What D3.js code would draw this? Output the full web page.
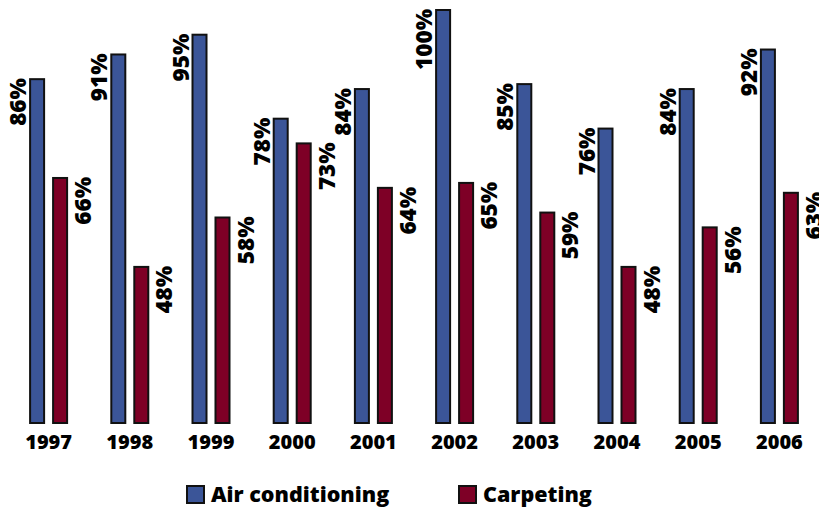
<!DOCTYPE html>
<html><head><meta charset="utf-8">
<script src="https://cdn.jsdelivr.net/npm/d3@7"></script>
<style>body{margin:0;background:#fff}svg{display:block}text{font-family:"Open Sans",sans-serif;font-weight:800;fill:#000}</style>
</head><body>
<svg id="c" width="819" height="508"></svg>
<script>
const years = ["1997","1998","1999","2000","2001","2002","2003","2004","2005","2006"];
const airConditioning = [86,91,95,78,84,100,85,76,84,92];
const carpeting = [66,48,58,73,64,65,59,48,56,63];
const seriesNames = ["Air conditioning","Carpeting"];
const colors = ["#3b5598","#7e0026"];

const svg = d3.select("#c");
const x = d3.scaleBand().domain(years).range([8, 820]).paddingInner(0).paddingOuter(0);
const GW = 39;
const xs = d3.scaleBand().domain(seriesNames).range([0, GW]).paddingInner(0.304);
const y = d3.scaleLinear().domain([16, 100]).range([424, 9]);

const data = years.map((yr, i) => ({year: yr, vals: [airConditioning[i], carpeting[i]]}));
const g = svg.append("g");
const grp = g.selectAll("g.grp").data(data).join("g")
  .attr("transform", d => `translate(${x(d.year) + (x.bandwidth() - GW) / 2},0)`);

grp.selectAll("rect").data(d => d.vals.map((v, k) => ({v, k}))).join("rect")
  .attr("x", d => xs(seriesNames[d.k]) + 1)
  .attr("width", xs.bandwidth() - 2)
  .attr("y", d => y(d.v) + 1)
  .attr("height", d => y.range()[0] - y(d.v) - 2)
  .attr("fill", d => colors[d.k])
  .attr("stroke", "#111").attr("stroke-width", 2);

grp.selectAll("text.val").data(d => d.vals.map((v, k) => ({v, k}))).join("text")
  .attr("class", "val")
  .attr("text-anchor", "end")
  .attr("font-size", 22.5)
  .attr("transform", d => {
    const bx = d.k === 0 ? xs(seriesNames[0]) - 3 : xs(seriesNames[1]) + xs.bandwidth() + 23;
    return `translate(${bx},${y(d.v)}) rotate(-90)`;
  })
  .text(d => d.v + "%");

const xAxis = d3.axisBottom(x).tickSize(0).tickPadding(0);
const ax = svg.append("g").attr("transform", "translate(0,449)").call(xAxis);
ax.select(".domain").remove();
ax.selectAll("text").attr("font-size", 20).attr("dy", "0").attr("y", 0)
  .style("font-family", "'Open Sans'").style("font-weight", 800).attr("fill", "#000");

const legX = [186, 458];
const leg = svg.append("g").selectAll("g").data(seriesNames).join("g")
  .attr("transform", (d, i) => `translate(${legX[i]},485)`);
leg.append("rect").attr("x", 1).attr("y", 1).attr("width", 17).attr("height", 17)
  .attr("fill", (d, i) => colors[i]).attr("stroke", "#111").attr("stroke-width", 2);
leg.append("text").attr("x", 25).attr("y", 16.5).attr("font-size", 21.5).text(d => d);
</script>
</body></html>
